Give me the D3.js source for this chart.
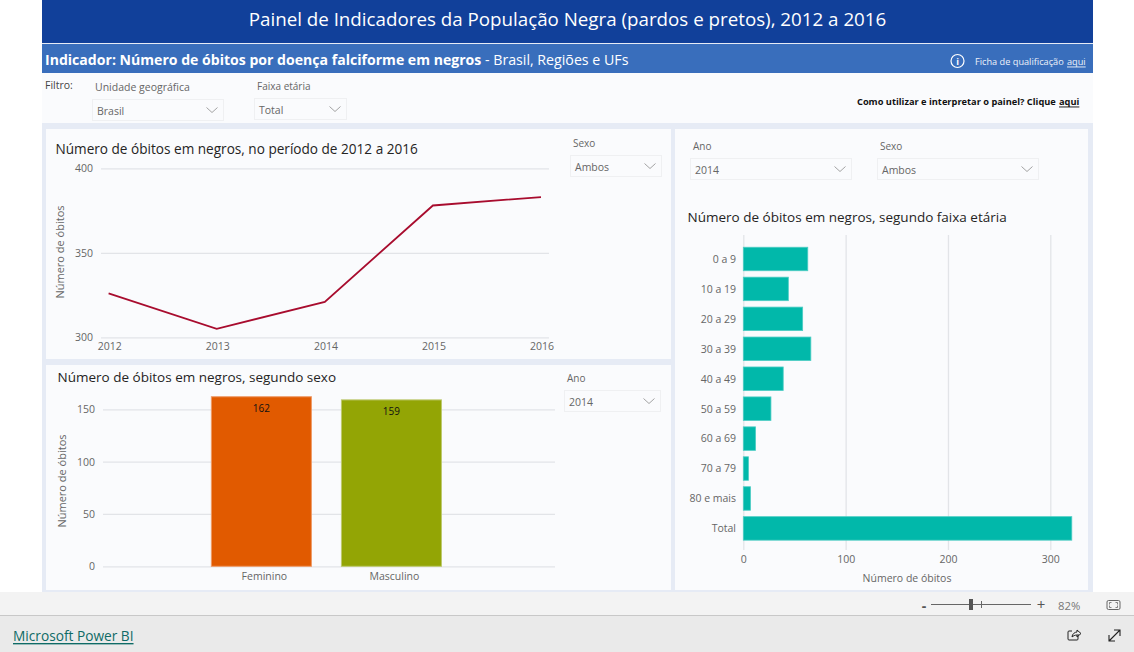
<!DOCTYPE html>
<html lang="pt"><head><meta charset="utf-8">
<script src="https://cdn.jsdelivr.net/npm/d3@7/dist/d3.min.js"></script>
<style>
html,body{margin:0;padding:0;background:#fff;overflow:hidden}
svg{display:block}
text{font-family:"Open Sans","Noto Sans",sans-serif}
.axis text{fill:#666;font-size:10.5px}
</style></head><body>
<svg id="c" width="1134" height="652"></svg>
<script>
const years = ["2012","2013","2014","2015","2016"];
const yearDeaths = [326,305,321,378,383];
const yearTicks = [300,350,400];
const sexes = ["Feminino","Masculino"];
const sexDeaths = [162,159];
const sexTicks = [0,50,100,150];
const ages = ["0 a 9","10 a 19","20 a 29","30 a 39","40 a 49","50 a 59","60 a 69","70 a 79","80 e mais","Total"];
const ageDeaths = [63,44,58,66,39,27,12,5,7,321];
const ageTicks = [0,100,200,300];

const svg = d3.select("#c");
const GRID="#e2e4e8", TXT="#666", DARK="#252423", PANEL="#fafbfd";
function rect(x,y,w,h,fill,stroke){return svg.append("rect").attr("x",x).attr("y",y).attr("width",w).attr("height",h).attr("fill",fill).attr("stroke",stroke||"none");}
function text(x,y,s,size,fill,opt){opt=opt||{};const t=svg.append("text").attr("x",x).attr("y",y).attr("font-size",size).attr("fill",fill).attr("dominant-baseline","central").text(s);
 if(opt.anchor)t.attr("text-anchor",opt.anchor); if(opt.weight)t.attr("font-weight",opt.weight); if(opt.u)t.attr("text-decoration","underline"); return t;}
function dropdown(x,y,w,h,label,value,lx,ly,ls){
 text(lx,ly,label,ls||10,TXT);
 rect(x+.5,y+.5,w,h,PANEL,"#eff0f2");
 text(x+5,y+h/2+1,value,10.5,TXT);
 const cx=x+w-11, cy=y+h/2+.5;
 svg.append("path").attr("d",`M${cx-5.5},${cy-2.5}L${cx},${cy+2.5}L${cx+5.5},${cy-2.5}`).attr("fill","none").attr("stroke","#999").attr("stroke-width",.9);
}
function styleAxis(g){g.attr("class","axis");g.select(".domain").remove();g.selectAll(".tick line").attr("stroke",GRID).attr("stroke-width",1.3);}

// page frame
rect(42,0,1051,592,"#e6ebf5");
rect(42,0,1051,43,"#11409a");
rect(42,44,1051,29,"#396ebc");
rect(42,73,1051,50,PANEL);
rect(46,129,625,230,PANEL);
rect(46,365,625,225,PANEL);
rect(675,129,413,461,PANEL);

text(567.5,18,"Painel de Indicadores da População Negra (pardos e pretos), 2012 a 2016",18.75,"#fff",{anchor:"middle"});
const sub=text(45,59,"",14.08,"#fff");
sub.append("tspan").attr("font-weight",700).text("Indicador: Número de óbitos por doença falciforme em negros");
sub.append("tspan").attr("font-size",14.2).text(" - Brasil, Regiões e UFs");
svg.append("circle").attr("cx",957.5).attr("cy",61).attr("r",6.5).attr("fill","none").attr("stroke","#fff").attr("stroke-width",1.2);
text(957.5,61,"i",9,"#fff",{anchor:"middle",weight:700});
text(975,61,"Ficha de qualificação",9.2,"#eef2fa");
text(1067,61,"aqui",9.2,"#eef2fa",{u:true});

text(45,85,"Filtro:",10.5,"#444");
dropdown(92,99,131,21,"Unidade geográfica","Brasil",95,87,10.5);
dropdown(254,98,92,21,"Faixa etária","Total",257,86);
text(857,101,"Como utilizar e interpretar o painel? Clique",9.25,"#111",{weight:700});
text(1059,101,"aqui",9.25,"#111",{weight:700,u:true});

// line chart
text(55.5,148,"Número de óbitos em negros, no período de 2012 a 2016",13.6,DARK);
dropdown(570,155,91,21,"Sexo","Ambos",573,143);
const xL=d3.scalePoint().domain(years).range([108.6,541]);
const yL=d3.scaleLinear().domain([300,400]).range([337.3,168.3]);
const gL=svg.append("g").attr("transform","translate(101,0)").call(d3.axisLeft(yL).tickValues(yearTicks).tickSize(-448).tickPadding(8));
styleAxis(gL);
const gLx=svg.append("g").attr("transform","translate(0,347)").call(d3.axisBottom(xL).tickSize(0).tickPadding(0));
gLx.attr("class","axis");gLx.select(".domain").remove();gLx.selectAll("text").attr("dy",".32em").attr("dx",.6);
svg.append("path").attr("d",d3.line().x((d,i)=>xL(years[i])).y(d=>yL(d))(yearDeaths)).attr("fill","none").attr("stroke","#a80c2e").attr("stroke-width",1.8);
text(0,0,"Número de óbitos",11,TXT,{anchor:"middle"}).attr("transform","translate(59,252) rotate(-90)");

// sex bars
text(57.5,377,"Número de óbitos em negros, segundo sexo",13.5,DARK);
dropdown(564,390,96,21,"Ano","2014",567,378);
const xS=d3.scaleBand().domain(sexes).range([196.4,456.4]).paddingInner(.2308).paddingOuter(.115);
const yS=d3.scaleLinear().domain([0,150]).range([566.3,409.3]);
const gS=svg.append("g").attr("transform","translate(103,0)").call(d3.axisLeft(yS).tickValues(sexTicks).tickSize(-452).tickPadding(8));
styleAxis(gS);
const sexFill=["#e15a00","#93a505"], sexStroke=["#ee9a66","#bdc96f"];
svg.selectAll(".sb").data(sexDeaths).join("rect").attr("class","sb")
 .attr("x",(d,i)=>xS(sexes[i])).attr("width",xS.bandwidth()).attr("y",d=>yS(d)).attr("height",d=>yS(0)-yS(d))
 .attr("fill",(d,i)=>sexFill[i]).attr("stroke",(d,i)=>sexStroke[i]).attr("stroke-width",1);
svg.selectAll(".sl").data(sexDeaths).join("text").attr("class","sl")
 .attr("x",(d,i)=>xS(sexes[i])+xS.bandwidth()/2).attr("y",d=>yS(d)+11.5).attr("text-anchor","middle").attr("dominant-baseline","central")
 .attr("font-size",10).attr("fill","#111").text(d=>d);
const gSx=svg.append("g").attr("transform","translate(3,577)").call(d3.axisBottom(xS).tickSize(0).tickPadding(0));
gSx.attr("class","axis");gSx.select(".domain").remove();gSx.selectAll("text").attr("dy",".32em");
text(0,0,"Número de óbitos",11,TXT,{anchor:"middle"}).attr("transform","translate(61,481) rotate(-90)");

// age bars
dropdown(690,158,161,21,"Ano","2014",693,146);
dropdown(877,158,161,21,"Sexo","Ambos",880,146);
text(687.5,217,"Número de óbitos em negros, segundo faixa etária",13.5,DARK);
const xA=d3.scaleLinear().domain([0,300]).range([743.3,1050.3]);
const yA=d3.scaleBand().domain(ages).range([244,543.4]).paddingInner(.215).paddingOuter(.108);
const gA=svg.append("g").attr("transform","translate(0,550)").call(d3.axisBottom(xA).tickValues(ageTicks).tickSize(-315).tickPadding(6));
styleAxis(gA);
svg.selectAll(".ab").data(ageDeaths).join("rect").attr("class","ab")
 .attr("x",xA(0)).attr("width",d=>xA(d)-xA(0)).attr("y",(d,i)=>yA(ages[i])).attr("height",yA.bandwidth())
 .attr("fill","#01b8aa").attr("stroke","#4dcdc4").attr("stroke-width",.8);
const gAy=svg.append("g").attr("transform","translate(736,.5)").call(d3.axisLeft(yA).tickSize(0).tickPadding(0));
gAy.attr("class","axis");gAy.select(".domain").remove();
text(907,578,"Número de óbitos",10.5,TXT,{anchor:"middle"});

// viewer chrome
rect(0,592,1134,23,"#f3f3f3");
rect(0,615,1134,37,"#eaeaea");
svg.append("line").attr("x1",0).attr("x2",1134).attr("y1",615.5).attr("y2",615.5).attr("stroke","#c8c8c8");
text(924,605,"-",14,"#555",{anchor:"middle",weight:700});
svg.append("line").attr("x1",931).attr("x2",1031).attr("y1",604.5).attr("y2",604.5).attr("stroke","#666");
rect(969,599,4,11,"#555");
svg.append("line").attr("x1",981.5).attr("x2",981.5).attr("y1",601).attr("y2",608).attr("stroke","#666");
text(1041,604,"+",15,"#555",{anchor:"middle"});
text(1058,605,"82%",11.3,"#777");
svg.append("rect").attr("x",1107).attr("y",600.5).attr("width",13).attr("height",9).attr("rx",1.5).attr("fill","none").attr("stroke","#666");
svg.append("path").attr("d","M1109.5,604.5v-2h2M1115.5,602.5h2v2M1117.5,605.5v2h-2M1111.5,607.5h-2v-2").attr("fill","none").attr("stroke","#666").attr("stroke-width",.8);
text(13,635.5,"Microsoft Power BI",13.7,"#0f6b66",{u:true});
svg.append("path").attr("d","M1078,634v5a1,1 0 0 1-1,1h-8a1,1 0 0 1-1-1v-7a1,1 0 0 1 1-1h3M1072,637c0-3 3-5 5-5v-2l4,3.5-4,3.5v-2c-2,0-4,1-5,2z").attr("fill","none").attr("stroke","#222").attr("stroke-width",1);
svg.append("path").attr("d","M1109,641L1120,630M1114,630h6v6M1109,635v6h6").attr("fill","none").attr("stroke","#222").attr("stroke-width",1.1);
</script></body></html>
